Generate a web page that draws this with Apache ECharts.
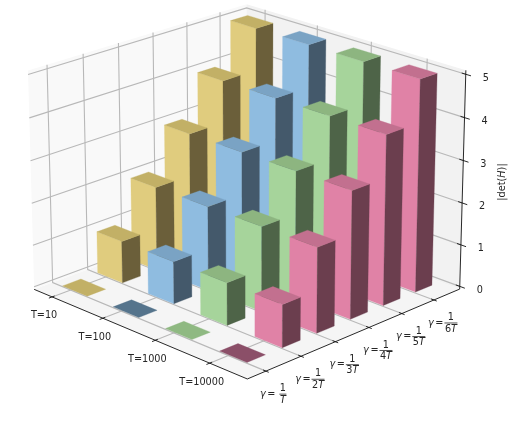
<!DOCTYPE html>
<html><head><meta charset="utf-8">
<style>html,body{margin:0;padding:0;background:#fff}#c{width:510px;height:436px}</style>
<script src="https://cdn.jsdelivr.net/npm/echarts@6/dist/echarts.min.js"></script>
</head><body><div id="c"></div>
<script>
const tLabels=['T=10','T=100','T=1000','T=10000'];
const gammaDenoms=['','2','3','4','5','6'];
const zTicks=[0,1,2,3,4,5];
const valuesT10=[0,1,2,3,4,5];
const valuesT100=[0,1,2,3,4,5];
const valuesT1000=[0,1,2,3,4,5];
const valuesT10000=[0,1,2,3,4,5];
const allValues=[valuesT10,valuesT100,valuesT1000,valuesT10000];
const faceColors=['#E0CC7E','#8FBCE0','#A6D49B','#E082A6'];
const sideColors=['#6B5F3A','#44596B','#4E6448','#6B3E4E'];
const topColors=['#C2B066','#7AA3C4','#8DB580','#C2708F'];
const tileColors=['#C2B066','#55748C','#8FB982','#8B4F68'];

const P={elev:21.039,azim:-45.099,dist:9.615,zs:.768,s:305.199,cx:246.948,cy:181.389,xlo:-.251,xhi:3.784,ylo:-.451,yhi:5.885,zlo:-.066,zhi:5.091,dx:.493,dy:.519,tx:.111,ty:.068};
function proj(x,y,z){const p=P;
 const a=(x-p.xlo)/(p.xhi-p.xlo)-.5,b=(y-p.ylo)/(p.yhi-p.ylo)-.5,c=((z-p.zlo)/(p.zhi-p.zlo)-.5)*p.zs;
 const el=p.elev*Math.PI/180,az=p.azim*Math.PI/180;
 const wx=Math.cos(el)*Math.cos(az),wy=Math.cos(el)*Math.sin(az),wz=Math.sin(el);
 const ux=-Math.sin(az),uy=Math.cos(az);
 const vx=-wz*uy,vy=wz*ux,vz=Math.cos(el);
 const xc=ux*a+uy*b,yc=vx*a+vy*b+vz*c,zc=wx*a+wy*b+wz*c;
 const k=p.dist/(p.dist-zc);
 return [p.cx+p.s*k*xc,p.cy-p.s*k*yc];
}
const FONT='"DejaVu Sans"';const FS=9.7;
const GRID='#b8b8b8';const GW=1.1;
function frameItem(params,api){
 const c=(x,y,z)=>api.coord(proj(x,y,z));
 const ch=[];
 const poly=(pts,fill)=>ch.push({type:'polygon',shape:{points:pts},style:{fill:fill}});
 const line=(pts,col,w)=>ch.push({type:'polyline',shape:{points:pts},style:{stroke:col,lineWidth:w,fill:'none'}});
 const {xlo,xhi,ylo,yhi,zlo,zhi,tx,ty}=P;
 poly([c(xlo,ylo,zlo),c(xhi,ylo,zlo),c(xhi,yhi,zlo),c(xlo,yhi,zlo)],'#F5F5F5');
 poly([c(xlo,ylo,zlo),c(xlo,yhi,zlo),c(xlo,yhi,zhi),c(xlo,ylo,zhi)],'#F9F9F9');
 poly([c(xlo,yhi,zlo),c(xhi,yhi,zlo),c(xhi,yhi,zhi),c(xlo,yhi,zhi)],'#F2F2F2');
 tLabels.forEach((s,i)=>line([c(i+tx,ylo,zlo),c(i+tx,yhi,zlo),c(i+tx,yhi,zhi)],GRID,GW));
 gammaDenoms.forEach((s,j)=>line([c(xhi,j+ty,zlo),c(xlo,j+ty,zlo),c(xlo,j+ty,zhi)],GRID,GW));
 zTicks.forEach(k=>line([c(xhi,yhi,k),c(xlo,yhi,k),c(xlo,ylo,k)],GRID,GW));
 line([c(xlo,ylo,zlo),c(xhi,ylo,zlo),c(xhi,yhi,zlo),c(xhi,yhi,zhi)],'#111',.9);
 tLabels.forEach((s,i)=>{line([c(i+tx,ylo+.07,zlo),c(i+tx,ylo-.09,zlo)],'#111',.9);
  const q=c(i+tx,ylo,zlo);ch.push({type:'text',x:q[0]-8,y:q[1]+19,style:{text:s,fontFamily:FONT,fontSize:FS,fill:'#262626',align:'center',verticalAlign:'middle'}});});
 const tr={fontFamily:FONT,fontSize:FS,fill:'#262626'};
 gammaDenoms.forEach((s,j)=>{line([c(xhi-.05,j+ty,zlo),c(xhi+.05,j+ty,zlo)],'#111',.9);
  const q=c(xhi,j+ty,zlo),X=q[0]+9,Y=q[1]+23;
  ch.push({type:'text',x:X-12,y:Y,style:{text:'γ',fontFamily:FONT,fontSize:FS,fontStyle:'italic',fill:'#262626',align:'center',verticalAlign:'middle'}});
  ch.push({type:'text',x:X-3.5,y:Y,style:{text:'=',fontFamily:FONT,fontSize:FS,fill:'#262626',align:'center',verticalAlign:'middle'}});
  ch.push({type:'text',x:X+8,y:Y-5.5,style:{text:'1',fontFamily:FONT,fontSize:FS,fill:'#262626',align:'center',verticalAlign:'middle'}});
  ch.push({type:'text',x:X+8,y:Y+6,style:{text:(s?'{n|'+s+'}':'')+'{i|T}',align:'center',verticalAlign:'middle',rich:{n:tr,i:Object.assign({},tr,{fontStyle:'italic'})}}});
  const w=s?6.5:3.5;
  ch.push({type:'line',shape:{x1:X+8-w,y1:Y,x2:X+8+w,y2:Y},style:{stroke:'#262626',lineWidth:.8}});});
 zTicks.forEach(k=>{line([c(xhi-.07,yhi,k),c(xhi+.09,yhi,k)],'#111',.9);
  const q=c(xhi,yhi,k);ch.push({type:'text',x:q[0]+20,y:q[1]+4,style:{text:String(k),fontFamily:FONT,fontSize:FS,fill:'#262626',align:'center',verticalAlign:'middle'}});});
 const lab=api.coord([502,182]);
 ch.push({type:'text',x:lab[0],y:lab[1],rotation:Math.PI/2,style:{text:'{n||det(}{i|H}{n|)|}',align:'center',verticalAlign:'middle',rich:{n:tr,i:Object.assign({},tr,{fontStyle:'italic'})}}});
 return {type:'group',children:ch};
}
function barItem(params,api){
 const i=api.value(0),j=api.value(1),h=api.value(2);
 const c=(x,y,z)=>api.coord(proj(x,y,z));
 const x0=i,x1=i+P.dx,y0=j,y1=j+P.dy;
 const ch=[];
 const poly=(pts,fill)=>ch.push({type:'polygon',shape:{points:pts},style:{fill:fill,stroke:fill,lineWidth:.3}});
 if(h<=0){poly([c(x0,y0,0),c(x1,y0,0),c(x1,y1,0),c(x0,y1,0)],tileColors[i]);}
 else{
  poly([c(x0,y0,0),c(x1,y0,0),c(x1,y0,h),c(x0,y0,h)],faceColors[i]);
  poly([c(x1,y0,0),c(x1,y1,0),c(x1,y1,h),c(x1,y0,h)],sideColors[i]);
  poly([c(x0,y0,h),c(x1,y0,h),c(x1,y1,h),c(x0,y1,h)],topColors[i]);
 }
 return {type:'group',children:ch};
}
const barData=[];
allValues.forEach((vals,i)=>{for(let j=vals.length-1;j>=0;j--)barData.push([i,j,vals[j]]);});
const chart=echarts.init(document.getElementById('c'),null,{renderer:'canvas'});
chart.setOption({animation:false,
 grid:{left:0,right:0,top:0,bottom:0},
 xAxis:{type:'value',min:0,max:510,show:false},
 yAxis:{type:'value',min:0,max:436,inverse:true,show:false},
 series:[
  {type:'custom',coordinateSystem:'cartesian2d',silent:true,data:[[0]],renderItem:frameItem,encode:{x:0,y:0}},
  {type:'custom',coordinateSystem:'cartesian2d',silent:true,data:barData,renderItem:barItem,encode:{x:0,y:1}}
 ]
});
</script></body></html>
